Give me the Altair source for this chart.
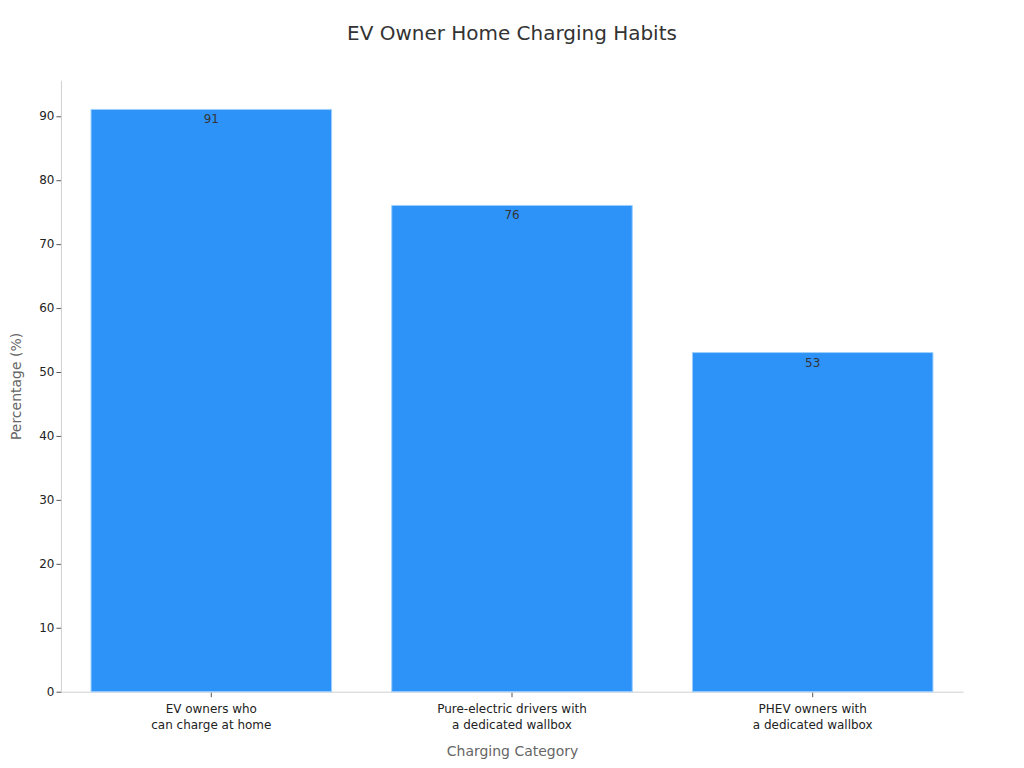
import altair as alt
import pandas as pd

categories = ["EV owners who\ncan charge at home", "Pure-electric drivers with\na dedicated wallbox", "PHEV owners with\na dedicated wallbox"]
values = [91, 76, 53]

df = pd.DataFrame({"cat": categories, "val": values})

base = alt.Chart(df).encode(
    x=alt.X("cat:N", sort=categories, title="Charging Category",
            scale=alt.Scale(paddingInner=0.2, paddingOuter=0.1),
            axis=alt.Axis(labelAngle=0, labelExpr="split(datum.label, '\\n')",
                          labelFontSize=12, labelColor="#222", titleFontSize=14,
                          titleColor="#666", titleFontWeight="normal", titlePadding=14,
                          domainColor="#d0d0d0", tickColor="#555", tickSize=5,
                          labelPadding=7, labelLineHeight=16)),
    y=alt.Y("val:Q", title="Percentage (%)",
            scale=alt.Scale(domain=[0, 95.55], nice=False),
            axis=alt.Axis(values=list(range(0, 100, 10)), grid=False,
                          labelFontSize=12, labelColor="#222", titleFontSize=14,
                          titleColor="#666", titleFontWeight="normal", titlePadding=15,
                          domainColor="#d0d0d0", tickColor="#555", tickSize=5)),
)

bars = base.mark_bar(color="#2E93F9", stroke="#9fd0ff", strokeWidth=1)
labels = base.mark_text(baseline="top", dy=5, fontSize=12, color="#333", font="DejaVu Sans").encode(
    text=alt.Text("val:Q"))

chart = (bars + labels).properties(
    width=903, height=612,
    title=alt.TitleParams("EV Owner Home Charging Habits", fontSize=20, fontWeight="normal",
                          color="#333", font="DejaVu Sans", offset=36),
    padding={"left": 1, "top": 16, "right": 53, "bottom": 5},
).configure(font="DejaVu Sans").configure_view(stroke=None)

chart.save("out.html", embed_options={"renderer": "svg", "actions": False})
